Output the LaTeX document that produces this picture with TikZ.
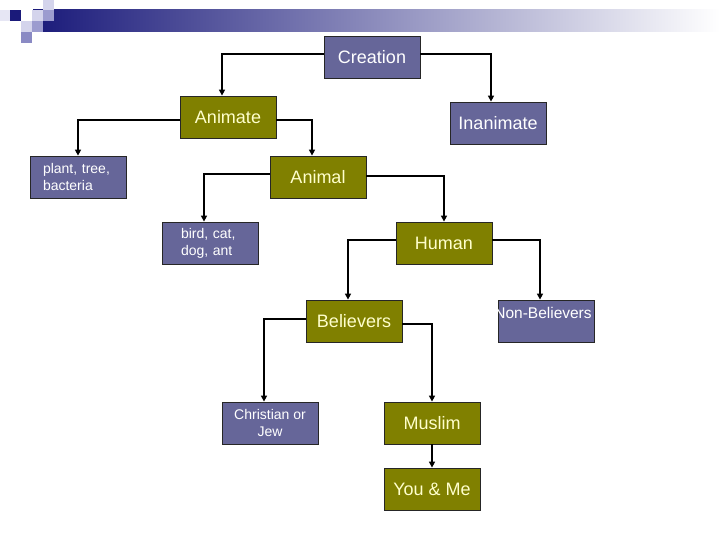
\documentclass[tikz,border=0pt]{standalone}
\usepackage{fontspec}
\setmainfont{Liberation Sans}
\usetikzlibrary{arrows.meta}
\definecolor{boxpurple}{HTML}{666699}
\definecolor{boxolive}{HTML}{808000}
\definecolor{olivetext}{HTML}{FFFFCC}
\definecolor{navy}{HTML}{1A1A7A}
\definecolor{sqlight}{HTML}{D4D4EC}
\definecolor{sqpale}{HTML}{E6E6F4}
\definecolor{sqmid}{HTML}{9C9CCF}
\definecolor{sqmed}{HTML}{8A8AC4}
\begin{document}
\begin{tikzpicture}[x=1pt,y=-1pt,
  box/.style={draw=black!85, line width=0.8pt, minimum width=96pt, minimum height=42pt, inner sep=0pt, font=\fontsize{18}{21}\selectfont},
  pbox/.style={box, fill=boxpurple, text=white},
  obox/.style={box, fill=boxolive, text=olivetext},
  small/.style={font=\fontsize{14}{17}\selectfont},
  conn/.style={line width=1.6pt, -{Triangle[width=6pt,length=6pt]}}]
\useasboundingbox (0,0) rectangle (720,540);
% header bar
\shade[left color=navy, right color=white] (33,10) rectangle (720,32);
\fill[sqpale] (0,10) rectangle (10,21);
\fill[navy] (10,10) rectangle (21,21);
\fill[sqlight] (43,0) rectangle (54,10);
\fill[sqlight] (32,10) rectangle (43,21);
\fill[sqmid] (43,10) rectangle (54,21);
\fill[sqlight] (21,21) rectangle (32,32);
\fill[sqmid] (32,21) rectangle (43,32);
\fill[sqmed] (21,32) rectangle (32,43);
% nodes
\node[pbox] (creation) at (372,57) {Creation};
\node[obox] (animate) at (228,117) {Animate};
\node[pbox] (inanimate) at (498,123) {Inanimate};
\node[pbox, small, align=left, text width=70pt] (plant) at (78,177) {plant, tree,\\bacteria};
\node[obox] (animal) at (318,177) {Animal};
\node[pbox, small, align=left, text width=58pt] (bird) at (210,243) {bird, cat,\\dog, ant};
\node[obox] (human) at (444,243) {Human};
\node[obox] (believers) at (354,321) {Believers};
\node[pbox, label={[text=white, font=\fontsize{15.5}{18}\selectfont, anchor=north, inner sep=0pt, yshift=-7pt, xshift=-3pt]north:Non-Believers}] (nonbel) at (546,321) {};
\node[pbox, small, align=center] (christian) at (270,423) {Christian or\\Jew};
\node[obox] (muslim) at (432,423) {Muslim};
\node[obox] (youme) at (432,489) {You \& Me};
% connectors
\draw[conn] ([yshift=3pt]creation.west) -| ([xshift=-6pt]animate.north);
\draw[conn] ([yshift=3pt]creation.east) -| ([xshift=-7pt]inanimate.north);
\draw[conn] ([yshift=-3pt]animate.west) -| (plant.north);
\draw[conn] ([yshift=-3pt]animate.east) -| ([xshift=-6pt]animal.north);
\draw[conn] ([yshift=3pt]animal.west) -| ([xshift=-6pt]bird.north);
\draw[conn] ([yshift=1pt]animal.east) -| (human.north);
\draw[conn] ([yshift=3pt]human.west) -| ([xshift=-6pt]believers.north);
\draw[conn] ([yshift=3pt]human.east) -| ([xshift=-6pt]nonbel.north);
\draw[conn] ([yshift=2pt]believers.west) -| ([xshift=-6pt]christian.north);
\draw[conn] ([yshift=-3pt]believers.east) -| (muslim.north);
\draw[conn] (muslim.south) -- (youme.north);
\end{tikzpicture}
\end{document}
